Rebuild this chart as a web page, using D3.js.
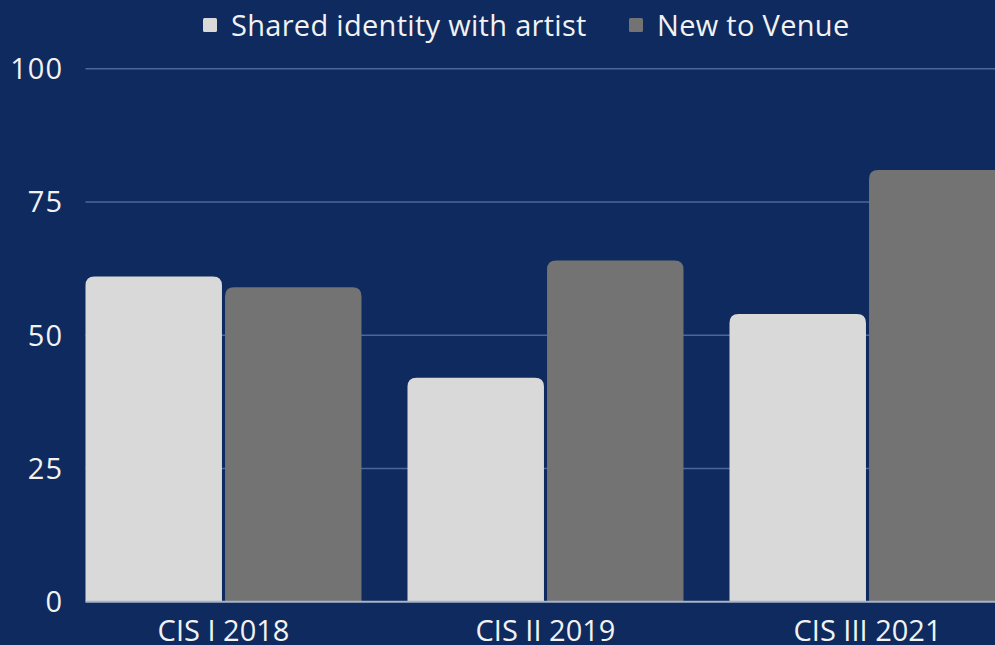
<!DOCTYPE html>
<html>
<head>
<meta charset="utf-8">
<script src="https://cdn.jsdelivr.net/npm/d3@7"></script>
<style>
  html, body { margin: 0; padding: 0; background: #0e2a5e; overflow: hidden; }
  svg { display: block; }
</style>
</head>
<body>
<div id="chart"></div>
<script>
const categories = ["CIS I 2018", "CIS II 2019", "CIS III 2021"];
const seriesNames = ["Shared identity with artist", "New to Venue"];
const sharedIdentity = [61, 42, 54];
const newToVenue = [59, 64, 81];
const yTicks = [0, 25, 50, 75, 100];

const W = 995, H = 645;
const FONT = "'Open Sans', sans-serif";
const colors = ["#d9d9d9", "#737373"];

const rows = categories.map((c, i) => ({ cat: c, values: [sharedIdentity[i], newToVenue[i]] }));

const svg = d3.select("#chart").append("svg")
  .attr("width", W).attr("height", H);

svg.append("rect").attr("width", W).attr("height", H).attr("fill", "#0e2a5e");

// Scales
const x0 = d3.scaleBand()
  .domain(categories)
  .range([85.5, 1005.5])
  .paddingInner(46 / 322)
  .paddingOuter(0);

const x1 = d3.scaleBand()
  .domain(seriesNames)
  .range([0, x0.bandwidth()])
  .paddingInner(0.022);

const y = d3.scaleLinear().domain([0, 100]).range([601.7, 68.7]);

// Gridlines
svg.append("g")
  .selectAll("line")
  .data(yTicks.filter(t => t > 0))
  .join("line")
  .attr("x1", 85.5).attr("x2", W)
  .attr("y1", d => y(d)).attr("y2", d => y(d))
  .attr("stroke", "#4d6797")
  .attr("stroke-width", 1.5);

// Y tick labels
svg.append("g")
  .selectAll("text")
  .data(yTicks)
  .join("text")
  .attr("x", 63)
  .attr("y", d => y(d) + 10.5)
  .attr("text-anchor", "end")
  .attr("font-family", FONT)
  .attr("font-size", "29px")
  .attr("letter-spacing", "1px")
  .attr("fill", "#f2f2f2")
  .text(d => d);

// Bars with rounded top corners
function topRounded(x, yTop, w, h, r) {
  r = Math.min(r, h, w / 2);
  return `M${x},${yTop + h}V${yTop + r}Q${x},${yTop} ${x + r},${yTop}` +
    `H${x + w - r}Q${x + w},${yTop} ${x + w},${yTop + r}V${yTop + h}Z`;
}

const groups = svg.append("g")
  .selectAll("g")
  .data(rows)
  .join("g")
  .attr("transform", d => `translate(${x0(d.cat)},0)`);

groups.selectAll("path")
  .data(d => d.values.map((v, i) => ({ key: seriesNames[i], v, i })))
  .join("path")
  .attr("d", d => topRounded(x1(d.key), y(d.v), x1.bandwidth(), y(0) - y(d.v), 9))
  .attr("fill", d => colors[d.i]);

// Baseline
svg.append("line")
  .attr("x1", 85.5).attr("x2", W)
  .attr("y1", y(0)).attr("y2", y(0))
  .attr("stroke", "#a9b4c8")
  .attr("stroke-width", 2);

// X labels
svg.append("g")
  .selectAll("text")
  .data(categories)
  .join("text")
  .attr("x", d => x0(d) + x0.bandwidth() / 2)
  .attr("y", 641)
  .attr("text-anchor", "middle")
  .attr("font-family", FONT)
  .attr("font-size", "29px")
  .attr("fill", "#f2f2f2")
  .text(d => d);

// Legend
const legendX = [203, 629];
const legend = svg.append("g")
  .selectAll("g")
  .data(seriesNames)
  .join("g")
  .attr("transform", (d, i) => `translate(${legendX[i]},25)`);

legend.append("rect")
  .attr("x", 0).attr("y", -7)
  .attr("width", 14).attr("height", 14)
  .attr("rx", 1.5)
  .attr("fill", (d, i) => colors[i]);

legend.append("text")
  .attr("x", 28)
  .attr("y", 10.5)
  .attr("font-family", FONT)
  .attr("font-size", "29px")
  .attr("letter-spacing", "0.3px")
  .attr("fill", "#f2f2f2")
  .text(d => d);
</script>
</body>
</html>
